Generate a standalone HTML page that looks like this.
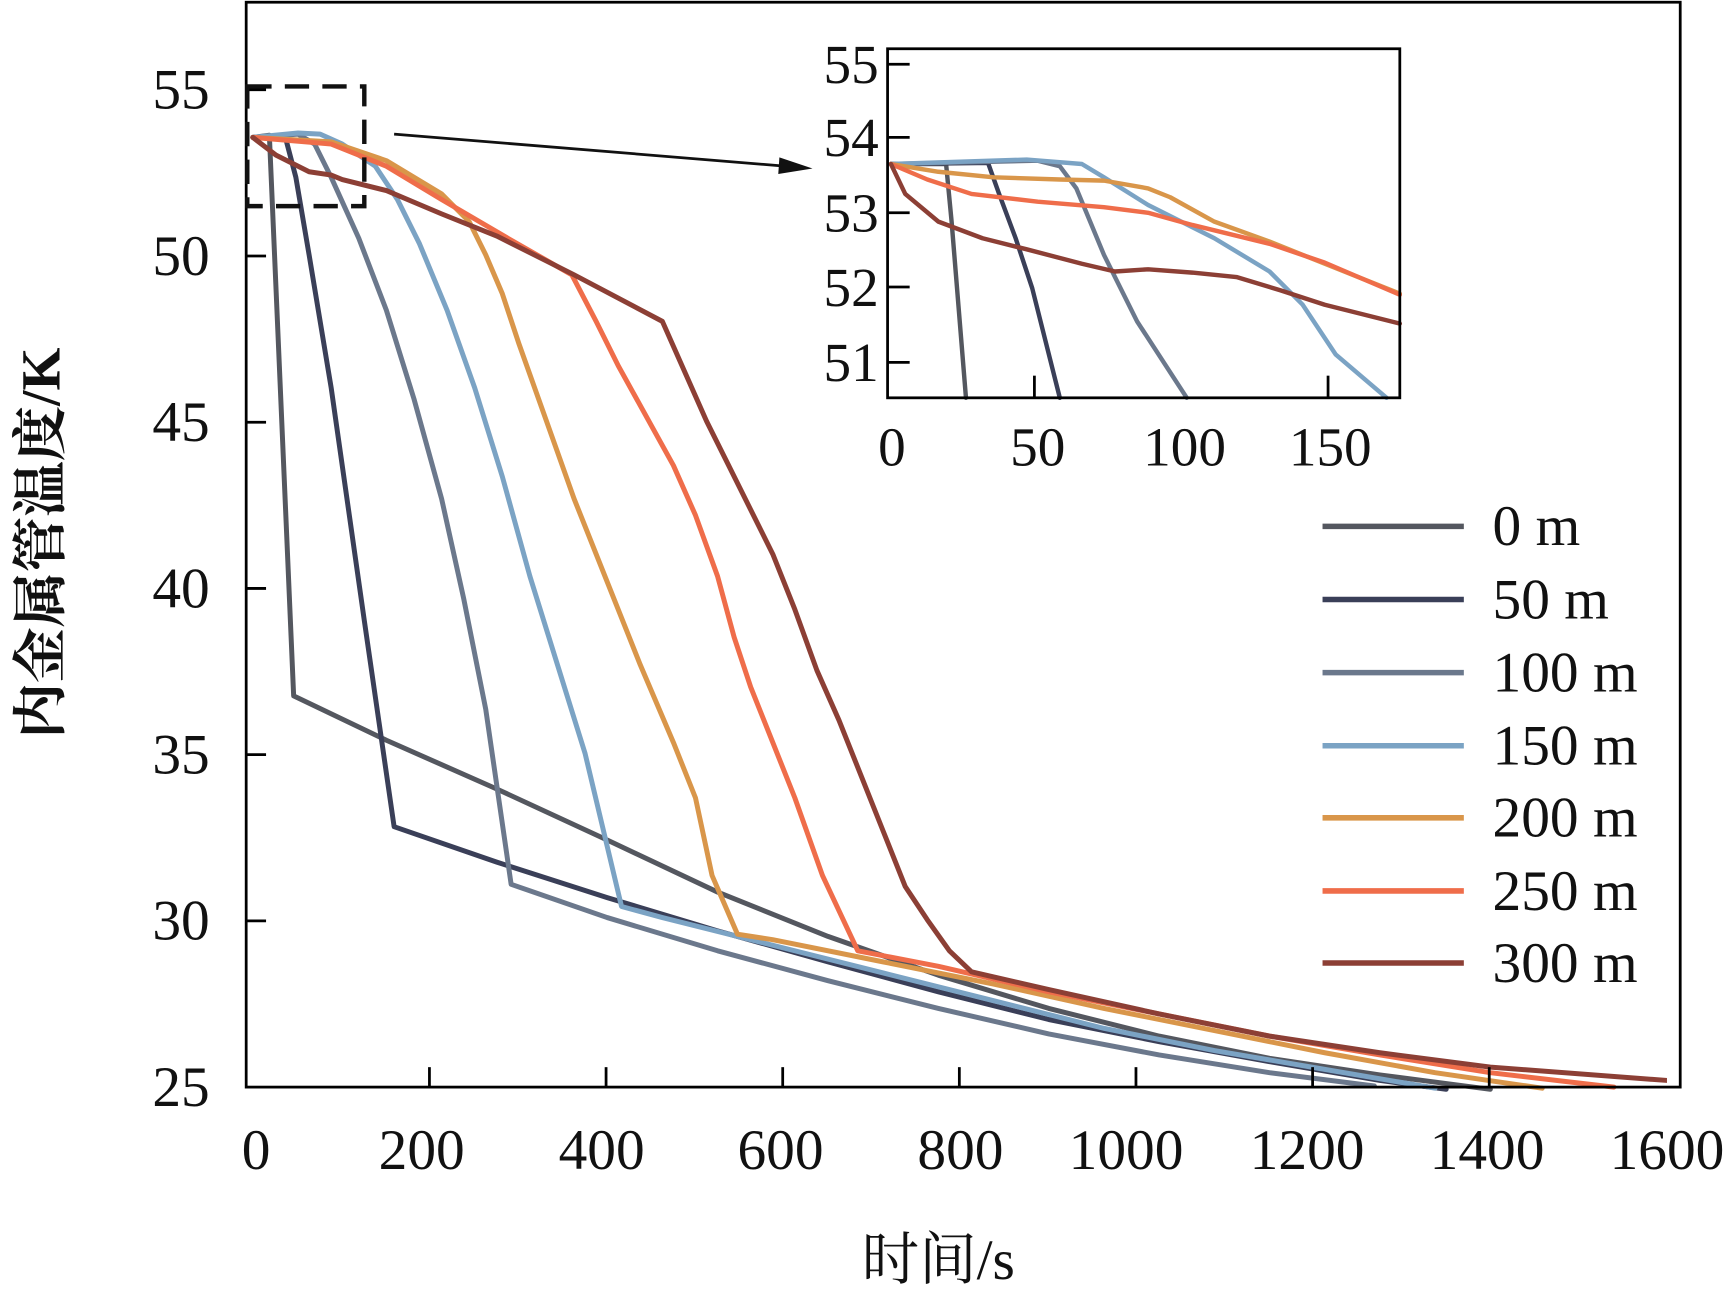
<!DOCTYPE html>
<html><head><meta charset="utf-8"><style>html,body{margin:0;padding:0;background:#fff}svg{display:block}text{font-family:"Liberation Serif","Noto Serif CJK SC",serif}</style></head>
<body>
<svg width="1731" height="1291" viewBox="0 0 1568 1165" preserveAspectRatio="none" xmlns="http://www.w3.org/2000/svg">
<rect x="0" y="0" width="1568" height="1165" fill="#fff"/>
<g fill="none" stroke-width="4.5" stroke-linejoin="round" stroke-linecap="round">
<polyline stroke="#54575f" points="229,124 244,122 266,628 350,668 450,712 550,758 650,805 750,845 850,880 950,910 1050,935 1150,955 1250,970 1350,983"/>
<polyline stroke="#3a3f58" points="229,124 258,122 268,160 280,230 300,350 330,560 357,746 450,778 550,810 650,840 750,868 850,895 950,920 1050,940 1150,958 1250,975 1310,983"/>
<polyline stroke="#6b788c" points="229,124 270,121 285,130 300,160 325,215 350,280 375,360 400,450 420,540 440,640 463,798 550,828 650,858 750,885 850,910 950,933 1050,952 1150,968 1245,980"/>
<polyline stroke="#7ba3c4" points="229,124 270,120 290,121 310,130 340,150 360,180 380,220 405,280 430,350 455,430 480,520 505,600 530,680 563,818 600,828 700,853 800,878 900,903 1000,928 1100,948 1200,965 1300,982"/>
<polyline stroke="#d9964a" points="229,124 300,128 350,145 400,175 425,200 440,230 455,265 470,310 495,380 520,450 550,525 580,600 610,670 630,720 645,790 668,843 700,848 800,868 900,888 1000,910 1100,930 1200,950 1300,968 1397,982"/>
<polyline stroke="#ef6d4a" points="229,124 300,130 350,150 400,180 460,215 518,248 540,290 560,330 585,375 610,420 630,465 650,520 665,575 680,620 700,670 720,720 745,790 777,858 850,872 950,895 1050,915 1150,935 1250,952 1350,968 1462,981"/>
<polyline stroke="#8c3f35" points="229,124 250,140 280,155 300,158 310,162 350,172 400,193 450,213 520,248 600,290 620,335 640,380 660,420 680,460 700,500 720,550 740,605 760,650 780,700 800,750 820,800 840,830 860,858 880,877 950,893 1050,915 1150,935 1250,950 1350,963 1510,975"/>
</g>
<rect x="1510" y="0" width="58" height="990" fill="#fff"/>
<rect x="223" y="2" width="1299" height="979" fill="none" stroke="#000" stroke-width="2.5"/>
<g stroke="#000" stroke-width="2.5">
<line x1="389" y1="981" x2="389" y2="963"/><line x1="549" y1="981" x2="549" y2="963"/><line x1="709" y1="981" x2="709" y2="963"/><line x1="869" y1="981" x2="869" y2="963"/><line x1="1029" y1="981" x2="1029" y2="963"/><line x1="1189" y1="981" x2="1189" y2="963"/><line x1="1349" y1="981" x2="1349" y2="963"/>
<line x1="223" y1="831" x2="241" y2="831"/><line x1="223" y1="681" x2="241" y2="681"/><line x1="223" y1="531" x2="241" y2="531"/><line x1="223" y1="381" x2="241" y2="381"/><line x1="223" y1="231" x2="241" y2="231"/><line x1="223" y1="81" x2="241" y2="81"/>
</g>
<g font-size="52" text-anchor="middle" fill="#111">
<text x="232" y="1055">0</text><text x="382" y="1055">200</text><text x="545" y="1055">400</text><text x="707" y="1055">600</text><text x="870" y="1055">800</text><text x="1020" y="1055">1000</text><text x="1184" y="1055">1200</text><text x="1347" y="1055">1400</text><text x="1510" y="1055">1600</text>
</g>
<g font-size="52" text-anchor="end" fill="#111">
<text x="190" y="998">25</text><text x="190" y="848">30</text><text x="190" y="698">35</text><text x="190" y="548">40</text><text x="190" y="398">45</text><text x="190" y="248">50</text><text x="190" y="98">55</text>
</g>
<text x="850" y="1154" font-size="52" text-anchor="middle" fill="#111">时间/s</text>
<text transform="translate(54,490) rotate(-90)" font-size="50" font-weight="bold" text-anchor="middle" fill="#111">内金属管温度/K</text>
<rect x="224" y="78" width="106" height="108" fill="none" stroke="#111" stroke-width="4" stroke-dasharray="22,12"/>
<line x1="357" y1="121" x2="712" y2="150" stroke="#111" stroke-width="2.5"/>
<polygon points="736,152 706,142 705,157" fill="#111"/>
<rect x="804" y="44" width="464" height="315" fill="#fff"/>
<g fill="none" stroke-width="4" stroke-linejoin="round" stroke-linecap="round">
<polyline stroke="#54575f" points="807,148 857,148 862,200 875,359"/>
<polyline stroke="#3a3f58" points="807,148 895,147 905,175 920,215 935,260 960,359"/>
<polyline stroke="#6b788c" points="807,148 940,145 960,150 975,170 1000,230 1030,290 1075,359"/>
<polyline stroke="#7ba3c4" points="807,148 930,144 980,148 1000,160 1040,185 1100,215 1150,245 1180,275 1210,320 1256,359"/>
<polyline stroke="#d9964a" points="807,148 850,155 900,160 960,162 1000,163 1040,170 1060,178 1100,200 1150,218 1200,238 1268,265"/>
<polyline stroke="#ef6d4a" points="807,148 840,162 880,175 940,182 1000,187 1040,192 1080,203 1150,220 1200,237 1268,266"/>
<polyline stroke="#8c3f35" points="807,148 820,175 850,200 890,215 930,225 980,238 1010,245 1040,243 1080,246 1120,250 1160,262 1200,275 1268,292"/>
</g>
<rect x="804" y="44" width="464" height="315" fill="none" stroke="#000" stroke-width="2.5"/>
<g stroke="#000" stroke-width="2.5">
<line x1="804" y1="58" x2="824" y2="58"/><line x1="804" y1="124" x2="824" y2="124"/><line x1="804" y1="192" x2="824" y2="192"/><line x1="804" y1="259" x2="824" y2="259"/><line x1="804" y1="327" x2="824" y2="327"/>
<line x1="937" y1="359" x2="937" y2="339"/><line x1="1203" y1="359" x2="1203" y2="339"/>
</g>
<g font-size="50" text-anchor="end" fill="#111">
<text x="796" y="75">55</text><text x="796" y="141">54</text><text x="796" y="209">53</text><text x="796" y="276">52</text><text x="796" y="344">51</text>
</g>
<g font-size="50" text-anchor="middle" fill="#111">
<text x="808" y="420">0</text><text x="940" y="420">50</text><text x="1073" y="420">100</text><text x="1205" y="420">150</text>
</g>
<g stroke-width="5">
<line x1="1198" y1="475" x2="1326" y2="475" stroke="#54575f"/>
<line x1="1198" y1="541" x2="1326" y2="541" stroke="#3a3f58"/>
<line x1="1198" y1="607" x2="1326" y2="607" stroke="#6b788c"/>
<line x1="1198" y1="673" x2="1326" y2="673" stroke="#7ba3c4"/>
<line x1="1198" y1="738" x2="1326" y2="738" stroke="#d9964a"/>
<line x1="1198" y1="804" x2="1326" y2="804" stroke="#ef6d4a"/>
<line x1="1198" y1="869" x2="1326" y2="869" stroke="#8c3f35"/>
</g>
<g font-size="52" fill="#111">
<text x="1352" y="492">0 m</text><text x="1352" y="558">50 m</text><text x="1352" y="624">100 m</text><text x="1352" y="690">150 m</text><text x="1352" y="755">200 m</text><text x="1352" y="821">250 m</text><text x="1352" y="886">300 m</text>
</g>
</svg>
</body></html>
